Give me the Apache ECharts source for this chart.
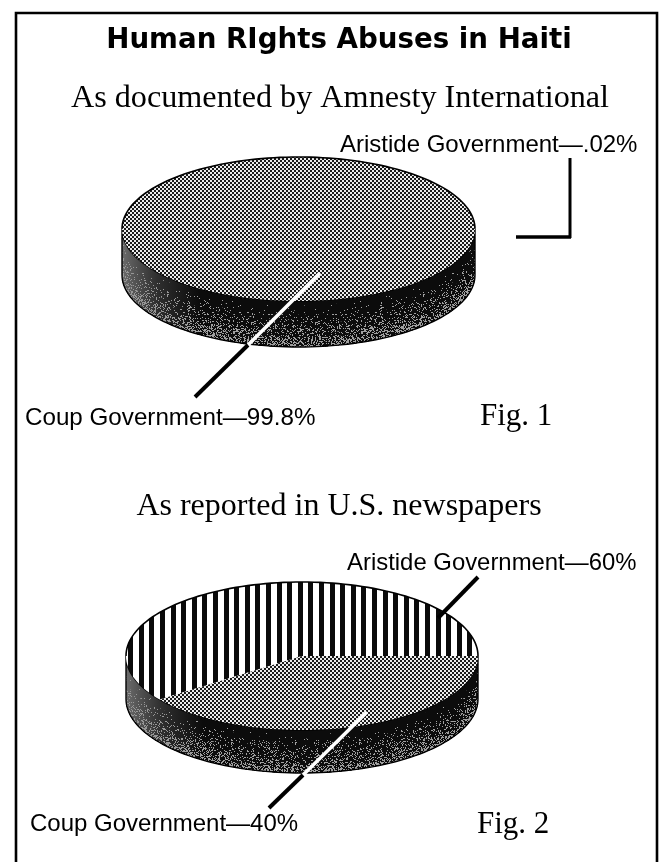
<!DOCTYPE html>
<html><head><meta charset="utf-8">
<style>html,body{margin:0;padding:0;background:#fff}#c{width:663px;height:862px}</style>
<script src="https://cdn.jsdelivr.net/npm/echarts@6/dist/echarts.min.js"></script>
</head><body><div id="c"></div>
<script>
const fig1Names = ['Aristide Government', 'Coup Government'];
const fig1Values = [0.02, 99.8];
const fig2Names = ['Aristide Government', 'Coup Government'];
const fig2Values = [60, 40];

function canvasOf(w, h, draw) {
  const c = document.createElement('canvas'); c.width = w; c.height = h;
  draw(c.getContext('2d')); return c;
}
const checker = canvasOf(4, 4, g => {
  g.fillStyle = '#ececec'; g.fillRect(0, 0, 4, 4);
  g.fillStyle = '#1a1a1a'; g.fillRect(0, 0, 2, 2); g.fillRect(2, 2, 2, 2);
});
const stripes = canvasOf(53, 2, g => {
  g.fillStyle = '#fff'; g.fillRect(0, 0, 53, 2);
  g.fillStyle = '#0a0a0a';
  for (let i = 0; i < 5; i++) g.fillRect(Math.round(i * 10.6) + 1, 0, 5, 2);
});
// Dithered side texture: a fixed hash, used only as paper grain
function grain(x, y) {
  const s = Math.sin(x * 12.9898 + y * 78.233) * 43758.5453;
  return s - Math.floor(s);
}
function stipple(density) {
  return canvasOf(64, 64, g => {
    for (let y = 0; y < 64; y++) for (let x = 0; x < 64; x++) {
      g.fillStyle = grain(x, y) < density ? '#0c0c0c' : '#a0a0a0';
      g.fillRect(x, y, 1, 1);
    }
  });
}
const bands = [1, 0.99, 0.96, 0.92, 0.88, 0.84, 0.8, 0.74, 0.64, 0.52].map(stipple);

function pt(p, deg, off) {
  const a = deg * Math.PI / 180;
  return [p.cx + p.rx * Math.cos(a), p.cy - p.ry * Math.sin(a) + (off || 0)];
}
function arc(p, a0, a1, off) {
  const out = [], n = Math.max(2, Math.ceil(Math.abs(a1 - a0) / 2));
  for (let i = 0; i <= n; i++) out.push(pt(p, a0 + (a1 - a0) * i / n, off));
  return out;
}
function pieSeries(p, names, values, fills) {
  const total = values.reduce((a, b) => a + b, 0);
  let acc = 0;
  const rows = values.map((v, i) => { const r = [i, acc / total * 360, (acc + v) / total * 360]; acc += v; return r; });
  return {
    type: 'custom', coordinateSystem: 'none', silent: true, animation: false,
    data: rows.map((r, i) => ({ name: names[i], value: r })),
    renderItem(params, api) {
      const i = api.value(0), a0 = api.value(1), a1 = api.value(2);
      const children = [];
      if (i === 0) {
        const wall = arc(p, 180, 360, 0).concat(arc(p, 360, 180, p.depth));
        bands.forEach((b, k) => {
          const o0 = p.depth * k / bands.length;
          const poly = arc(p, 180, 360, o0).concat(arc(p, 360, 180, p.depth));
          children.push({ type: 'polygon', shape: { points: poly }, style: { fill: { image: b, repeat: 'repeat' } } });
        });
        children.push({ type: 'polygon', shape: { points: wall }, style: {
          fill: { type: 'linear', x: 0, y: 0, x2: 1, y2: 0, colorStops: [
            { offset: 0, color: 'rgba(150,150,150,0.7)' }, { offset: 0.1, color: 'rgba(130,130,130,0.3)' },
            { offset: 0.22, color: 'rgba(120,120,120,0)' }, { offset: 1, color: 'rgba(120,120,120,0)' }] },
          stroke: '#000', lineWidth: 1.4 } });
      }
      const sector = [[p.cx, p.cy]].concat(arc(p, a0, a1, 0));
      children.push({ type: 'polygon', shape: { points: sector }, style: {
        fill: { image: fills[i] === 's' ? stripes : checker, repeat: 'repeat' } } });
      const upper = Math.max(a0, 0) < 180 ? arc(p, a0, Math.min(a1, 180), 0) : null;
      if (upper) children.push({ type: 'polyline', shape: { points: upper }, style: { fill: 'none', stroke: '#000', lineWidth: 1.6 } });
      if (p.seam && i === 0) {
        children.push({ type: 'polyline', shape: { points: [[p.cx, p.cy], pt(p, a0, 0)] }, style: { fill: 'none', stroke: '#000', lineWidth: 1.2 } });
      }
      return { type: 'group', children };
    }
  };
}
function txt(x, base, s, font, weight, size, align) {
  return { type: 'text', x, y: base, z: 10, style: { text: s, fill: '#000', font: weight + ' ' + size + 'px ' + font,
    textAlign: align || 'left', textVerticalAlign: 'bottom' } };
}
function seg(x1, y1, x2, y2, color, w) {
  return { type: 'line', z: 9, shape: { x1, y1, x2, y2 }, style: { stroke: color, lineWidth: w, lineCap: 'butt' } };
}
const SANS = '"Liberation Sans", Arial, sans-serif', SERIF = '"Liberation Serif", serif', HEAD = '"DejaVu Sans", sans-serif';
const pie1 = { cx: 298.5, cy: 229, rx: 176.5, ry: 72, depth: 46, seam: true };
const pie2 = { cx: 302, cy: 656, rx: 176, ry: 74, depth: 43 };

const chart = echarts.init(document.getElementById('c'), null, { renderer: 'canvas' });
chart.setOption({
  backgroundColor: '#fff', animation: false,
  series: [pieSeries(pie1, fig1Names, fig1Values, ['c', 'c']), pieSeries(pie2, fig2Names, fig2Values, ['s', 'c'])],
  graphic: { elements: [
    { type: 'rect', z: 8, shape: { x: 16, y: 13, width: 641, height: 870 }, style: { fill: 'none', stroke: '#000', lineWidth: 2.6 } },
    txt(339, 55, 'Human RIghts Abuses in Haiti', HEAD, 'bold', 27.7, 'center'),
    txt(340, 115, 'As documented by Amnesty International', SERIF, 'normal', 32.2, 'center'),
    txt(340, 157, fig1Names[0] + '—.02%', SANS, 'normal', 24),
    txt(25, 430, fig1Names[1] + '—99.8%', SANS, 'normal', 24.2),
    txt(480, 432, 'Fig. 1', SERIF, 'normal', 31),
    txt(339, 523, 'As reported in U.S. newspapers', SERIF, 'normal', 32, 'center'),
    txt(347, 575, fig2Names[0] + '—60%', SANS, 'normal', 23.9),
    txt(30, 836, fig2Names[1] + '—40%', SANS, 'normal', 24),
    txt(477, 840, 'Fig. 2', SERIF, 'normal', 31),
    seg(570, 158, 570, 238, '#000', 3), seg(516, 237, 571, 237, '#000', 3.5),
    seg(320, 273, 248, 345, '#fff', 3.5), seg(248, 345, 195, 397, '#000', 4),
    seg(478, 577, 438, 618, '#000', 4),
    seg(367, 712, 303, 775, '#fff', 3.5), seg(303, 775, 269, 808, '#000', 4)
  ] }
});
</script></body></html>
